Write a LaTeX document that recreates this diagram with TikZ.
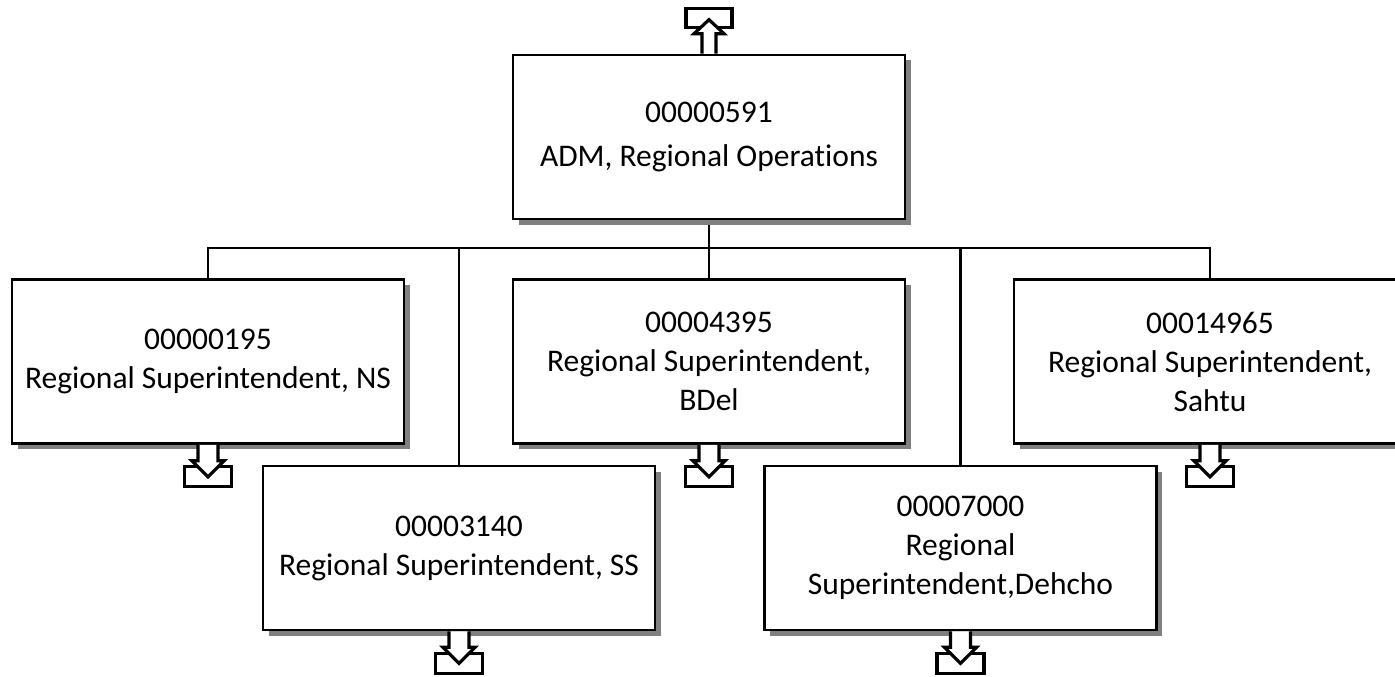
\documentclass[tikz,border=0pt]{standalone}
\usepackage{fontspec}
\setmainfont{Carlito}[Ligatures=NoCommon]
\usetikzlibrary{shadows,backgrounds}
\tikzset{
  orgbox/.style={draw, fill=white, line width=2.6pt, minimum width=392pt, minimum height=164pt,
    inner sep=0pt, align=center, font=\fontsize{31.5}{39}\selectfont,
    drop shadow={shadow xshift=5.5pt, shadow yshift=-5.5pt, fill=black!50, opacity=1}},
  conn/.style={line width=2.4pt},
  iconline/.style={line width=3.2pt, fill=white, line join=miter},
  drilldown/.pic={
    \draw[iconline] (-23.5,22) rectangle (23.5,42);
    \draw[iconline] (-10,0) -- (-10,16) -- (-16,16) -- (0,32) -- (16,16) -- (10,16) -- (10,0);
  },
  drillup/.pic={
    \draw[iconline] (-23,-45) rectangle (23,-26);
    \draw[iconline] (-7,0) -- (-7,-20) -- (-15,-20) -- (0,-34) -- (15,-20) -- (7,-20) -- (7,0);
  }
}
\begin{document}
\begin{tikzpicture}[x=1pt,y=-1pt]
\useasboundingbox (0,0) rectangle (1395,677);
\node[orgbox, font=\fontsize{31.5}{44}\selectfont] (top) at (709,137) {00000591\\ADM, Regional Operations};
\node[orgbox] (ns) at (208,361.5) {00000195\\Regional Superintendent, NS};
\node[orgbox] (bdel) at (709,361.5) {00004395\\Regional Superintendent,\\BDel};
\node[orgbox] (sahtu) at (1210,361.5) {00014965\\Regional Superintendent,\\Sahtu};
\node[orgbox] (ss) at (459,548) {00003140\\Regional Superintendent, SS};
\node[orgbox] (dehcho) at (960.5,548) {00007000\\Regional\\Superintendent,Dehcho};
\coordinate (bus) at (709,248);
\begin{pgfonlayer}{background}
\draw[conn] (top.south) -- (top.south |- bus);
\draw[conn] (ns.north) -- (ns.north |- bus) -- (sahtu.north |- bus) -- (sahtu.north);
\draw[conn] (ss.north) -- (ss.north |- bus);
\draw[conn] (bdel.north) -- (bdel.north |- bus);
\draw[conn] (dehcho.north) -- (dehcho.north |- bus);
\end{pgfonlayer}
\pic at (top.north) {drillup};
\pic at (ns.south) {drilldown};
\pic at (bdel.south) {drilldown};
\pic at (sahtu.south) {drilldown};
\pic at (ss.south) {drilldown};
\pic at (dehcho.south) {drilldown};
\end{tikzpicture}
\end{document}
